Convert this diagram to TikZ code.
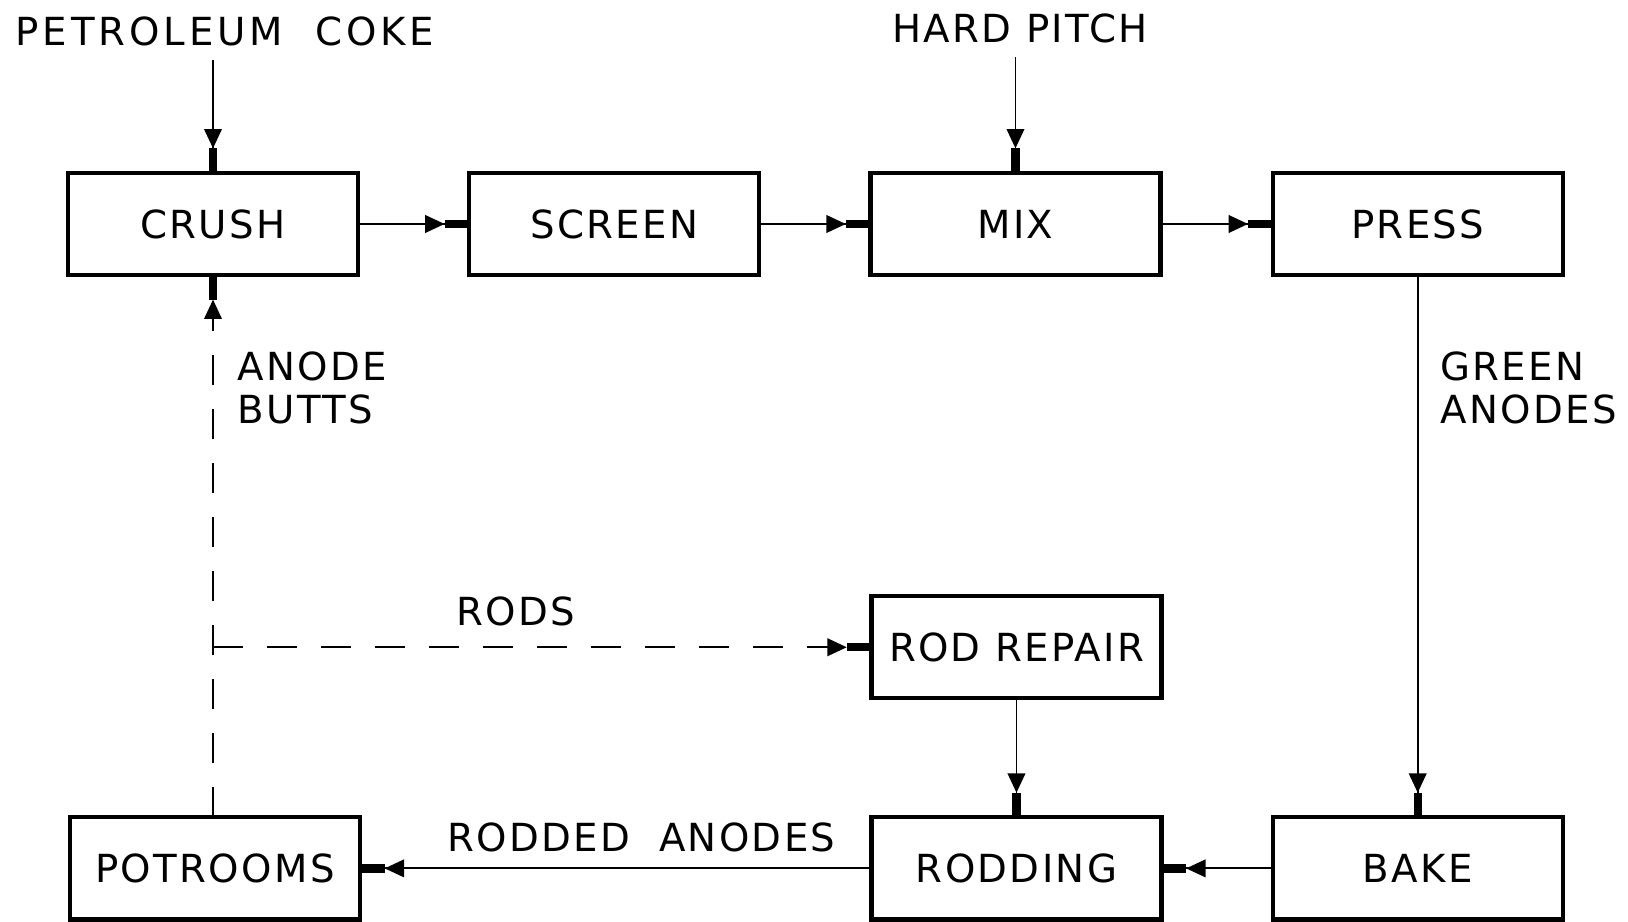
\documentclass[tikz,border=0pt]{standalone}
\usepackage{fontspec}
\setsansfont{DejaVu Sans}[LetterSpace=6]
\usetikzlibrary{arrows.meta, positioning}

\begin{document}
\begin{tikzpicture}[
  x=0.01cm, y=-0.01cm,
  font=\sffamily\fontsize{11}{12.4}\selectfont,
  box/.style={
    draw, line width=1.2pt, minimum width=2.9cm, minimum height=1.02cm,
    inner sep=2pt, outer sep=0pt, align=center
  },
  lbl/.style={inner sep=0pt, align=left},
  flow/.style={
    draw, line width=0.55pt,
    -{Triangle[length=5.5pt, width=5pt]Rectangle[length=7pt, width=2.4pt]}
  },
  flowdash/.style={flow, dash pattern=on 0.3cm off 0.24cm}
]
\useasboundingbox (0,0) rectangle (1628,922);

\node[box] (crush) at (213,224) {CRUSH};
\node[box, right=1.11cm of crush] (screen) {SCREEN};
\node[box, right=1.11cm of screen] (mix) {MIX};
\node[box, right=1.12cm of mix] (press) {PRESS};

\node[box, below=5.42cm of press] (bake) {BAKE};
\node[box, left=1.11cm of bake] (rodding) {RODDING};
\node[box, left=5.11cm of rodding] (potrooms) {POTROOMS};
\node[box, above=1.19cm of rodding] (rodrepair) {ROD REPAIR};

\node[lbl, anchor=west] (coke) at (15,31) {\addfontfeature{LetterSpace=10}PETROLEUM~~COKE};
\node[lbl] (pitch) at (1020,28) {HARD PITCH};

\draw[flow, shorten <=4pt] (coke.south -| crush.north) -- (crush.north);
\draw[flow, shorten <=4pt] (pitch.south -| mix.north) -- (mix.north);

\draw[flow] (crush) -- (screen);
\draw[flow] (screen) -- (mix);
\draw[flow] (mix) -- (press);
\draw[flow] (press) -- (bake);
\node[lbl, anchor=west] (green) at ([xshift=0.22cm, yshift=-1.13cm]press.south) {GREEN\\ANODES};

\draw[flow] (bake) -- (rodding);
\draw[flow] (rodrepair) -- (rodding);
\draw[flow] (rodding) -- (potrooms)
  node[lbl, pos=0.45, above=0.15cm] {RODDED~~ANODES};

% anode butts back to crush, rods off to repair
\draw[flowdash] (potrooms.north -| crush.south) -- (crush.south);
\node[lbl, anchor=west] (butts) at ([xshift=0.24cm, yshift=-1.13cm]crush.south) {ANODE\\BUTTS};
\coordinate (split) at (crush.south |- rodrepair.west);
\draw[flowdash] (split) -- (rodrepair.west)
  node[lbl, pos=0.46, above=0.2cm] {RODS};
\end{tikzpicture}
\end{document}
